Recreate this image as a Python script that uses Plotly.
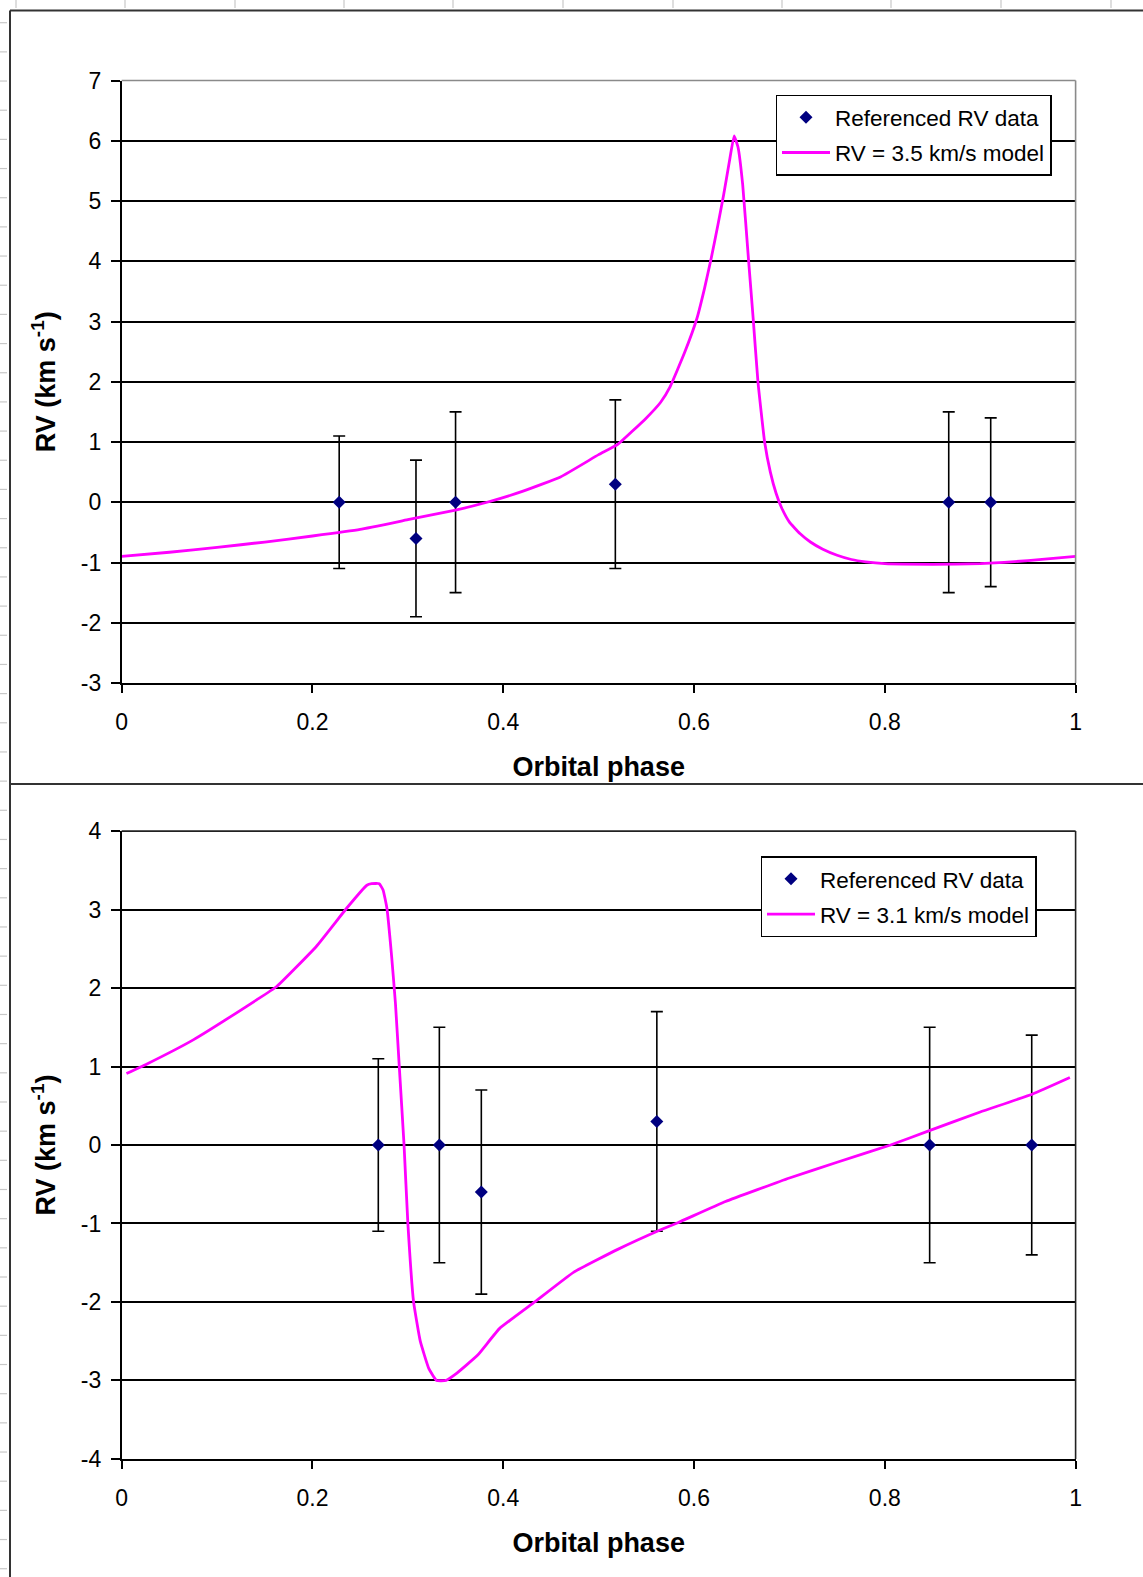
import plotly.graph_objects as go

W, H = 1143, 1577

# ---------------- data ----------------
# Top chart: referenced RV data
top_phase = [0.228, 0.3085, 0.350, 0.5175, 0.867, 0.911]
top_rv = [0.0, -0.6, 0.0, 0.3, 0.0, 0.0]
top_err = [1.1, 1.3, 1.5, 1.4, 1.5, 1.4]

# Top chart: RV = 3.5 km/s model
top_model_phase = [0.00, 0.05, 0.10, 0.15, 0.20, 0.25, 0.30, 0.35, 0.383, 0.42, 0.46,
                   0.50, 0.52, 0.55, 0.565, 0.575, 0.59, 0.603, 0.611, 0.618, 0.625, 0.631,
                   0.637, 0.642, 0.646, 0.651, 0.657, 0.662, 0.667, 0.674, 0.680,
                   0.686, 0.692, 0.700, 0.711, 0.722, 0.735, 0.750, 0.765, 0.780,
                   0.800, 0.850, 0.900, 0.950, 1.000]
top_model_rv = [-0.90, -0.83, -0.75, -0.66, -0.56, -0.45, -0.29, -0.13, 0.00, 0.18, 0.42,
                0.79, 0.96, 1.40, 1.66, 1.92, 2.48, 3.05, 3.55, 4.05, 4.60, 5.10,
                5.65, 6.08, 5.90, 5.27, 4.05, 3.05, 2.00, 1.00, 0.50,
                0.15, -0.10, -0.33, -0.52, -0.66, -0.78, -0.88, -0.95, -0.99,
                -1.02, -1.03, -1.02, -0.97, -0.90]

# Bottom chart: referenced RV data
bot_phase = [0.269, 0.333, 0.377, 0.561, 0.847, 0.954]
bot_rv = [0.0, 0.0, -0.6, 0.3, 0.0, 0.0]
bot_err = [1.1, 1.5, 1.3, 1.4, 1.5, 1.4]

# Bottom chart: RV = 3.1 km/s model
bot_model_phase = [0.005, 0.026, 0.075, 0.1415, 0.1625, 0.204, 0.236, 0.257, 0.262, 0.270,
                   0.274, 0.278, 0.283, 0.287, 0.291, 0.296, 0.300, 0.306, 0.313, 0.322,
                   0.330, 0.340, 0.350, 0.373, 0.396, 0.433, 0.474, 0.520, 0.565, 0.583,
                   0.633, 0.700, 0.750, 0.806, 0.846, 0.900, 0.955, 0.994]
bot_model_rv = [0.91, 1.03, 1.34, 1.85, 2.02, 2.53, 3.02, 3.31, 3.33, 3.33,
                3.25, 3.02, 2.40, 1.80, 1.00, 0.00, -1.00, -2.00, -2.50, -2.85,
                -3.00, -3.00, -2.92, -2.68, -2.34, -2.00, -1.62, -1.33, -1.08, -0.99,
                -0.72, -0.42, -0.22, 0.00, 0.18, 0.42, 0.65, 0.86]

x_tickvals = [0, 0.2, 0.4, 0.6, 0.8, 1.0]
x_ticktext = ["0", "0.2", "0.4", "0.6", "0.8", "1"]
top_yticks = list(range(-3, 8))
bot_yticks = list(range(-4, 5))

legend_data_name = "Referenced RV data"
top_model_name = "RV = 3.5 km/s model"
bot_model_name = "RV = 3.1 km/s model"

# ---------------- styling ----------------
FONT = "Liberation Sans, Arial, sans-serif"
NAVY = "#000080"
MAGENTA = "#FF00FF"
TICK_FS = 23
TITLE_FS = 27
LEG_FS = 22.5

fig = go.Figure()

def add_panel(phase, rv, err, mphase, mrv, mname, xa, ya, leg, tag):
    fig.add_trace(go.Scatter(
        x=phase, y=rv, mode="markers", name=legend_data_name,
        marker=dict(symbol="diamond", size=10, color=NAVY),
        error_y=dict(type="data", array=err, visible=True, color="black",
                     thickness=1.6, width=6),
        xaxis=xa, yaxis=ya, legend=leg, legendgroup=tag + "d", showlegend=True))
    fig.add_trace(go.Scatter(
        x=mphase, y=mrv, mode="lines", name=mname,
        line=dict(color=MAGENTA, width=2.8, shape="spline", smoothing=0.35),
        xaxis=xa, yaxis=ya, legend=leg, legendgroup=tag + "m", showlegend=True))

add_panel(top_phase, top_rv, top_err, top_model_phase, top_model_rv, top_model_name, "x", "y", "legend", "t")
add_panel(bot_phase, bot_rv, bot_err, bot_model_phase, bot_model_rv, bot_model_name, "x2", "y2", "legend2", "b")

xl, xr = 121.7 / W, 1075.6 / W
top_dom = [1 - 683.0 / H, 1 - 80.5 / H]
bot_dom = [1 - 1458.9 / H, 1 - 831.1 / H]

def xaxis_cfg(anchor):
    return dict(domain=[xl, xr], range=[0, 1], anchor=anchor, automargin=False,
                tickmode="array", tickvals=x_tickvals, ticktext=x_ticktext,
                showgrid=False, zeroline=False,
                showline=True, linecolor="black", linewidth=1.6,
                ticks="outside", ticklen=8, tickwidth=1.6, tickcolor="black",
                tickfont=dict(family=FONT, size=TICK_FS, color="black"),
                ticklabelstandoff=10,
                title=dict(text="<b>Orbital phase</b>", standoff=23,
                           font=dict(family=FONT, size=TITLE_FS, color="black")))

def yaxis_cfg(anchor, dom, rng, ticks):
    return dict(domain=dom, range=rng, anchor=anchor, automargin=False,
                tickmode="array", tickvals=ticks, ticktext=[str(t) for t in ticks],
                showgrid=True, gridcolor="black", gridwidth=1.6,
                zeroline=False,
                showline=True, linecolor="black", linewidth=1.6,
                ticks="outside", ticklen=9, tickwidth=1.6, tickcolor="black",
                tickfont=dict(family=FONT, size=TICK_FS, color="black"),
                ticklabelstandoff=5,
                title=dict(text="<b>RV (km s<sup>-1</sup>)</b>", standoff=17,
                           font=dict(family=FONT, size=TITLE_FS, color="black")))

legend_common = dict(xanchor="left", yanchor="top", bgcolor="white",
                     bordercolor="black", borderwidth=1.5,
                     font=dict(family=FONT, size=LEG_FS, color="black"),
                     itemwidth=48, tracegroupgap=3)

fig.update_layout(
    width=W, height=H, margin=dict(l=0, r=0, t=0, b=0, pad=0, autoexpand=False),
    paper_bgcolor="white", plot_bgcolor="white",
    font=dict(family=FONT, color="black"),
    xaxis=xaxis_cfg("y"), yaxis=yaxis_cfg("x", top_dom, [-3, 7], top_yticks),
    xaxis2=xaxis_cfg("y2"), yaxis2=yaxis_cfg("x2", bot_dom, [-4, 4], bot_yticks),
    legend=dict(x=775.5 / W, y=1 - 94.6 / H, **legend_common),
    legend2=dict(x=760.5 / W, y=1 - 856.2 / H, **legend_common),
    hovermode=False,
)

# ---------------- page decorations (spreadsheet frame) ----------------
shapes = []
GRAY = "#c8c8c8"
# plot area border (top/right) for each panel
for xr_, yr_, col in (("x domain", "y domain", "#8a8a8a"), ("x2 domain", "y2 domain", "#222222")):
    shapes.append(dict(type="line", xref=xr_, yref=yr_, x0=0, x1=1, y0=1, y1=1,
                       line=dict(color=col, width=1.6), layer="above"))
    shapes.append(dict(type="line", xref=xr_, yref=yr_, x0=1, x1=1, y0=0, y1=1,
                       line=dict(color=col, width=1.6), layer="above"))
# top ruler ticks
for px in [16, 125, 235, 344, 453, 563, 673, 782, 891, 1001, 1111]:
    shapes.append(dict(type="line", xref="paper", yref="paper",
                       x0=px / W, x1=px / W, y0=1, y1=1 - 8 / H,
                       line=dict(color=GRAY, width=1.2)))
# left ruler ticks
k = 0
while 22.7 + 29.17 * k < H:
    py = 22.7 + 29.17 * k
    shapes.append(dict(type="line", xref="paper", yref="paper",
                       x0=0, x1=7 / W, y0=1 - py / H, y1=1 - py / H,
                       line=dict(color=GRAY, width=1.2)))
    k += 1
# frame lines
shapes.append(dict(type="line", xref="paper", yref="paper", x0=10 / W, x1=10 / W,
                   y0=1 - 10.5 / H, y1=0, line=dict(color="#333333", width=2)))
shapes.append(dict(type="line", xref="paper", yref="paper", x0=10 / W, x1=1,
                   y0=1 - 10.5 / H, y1=1 - 10.5 / H, line=dict(color="#333333", width=2)))
shapes.append(dict(type="line", xref="paper", yref="paper", x0=10 / W, x1=1,
                   y0=1 - 784 / H, y1=1 - 784 / H, line=dict(color="#333333", width=2)))
fig.update_layout(shapes=shapes)

fig.write_html("out.html")
